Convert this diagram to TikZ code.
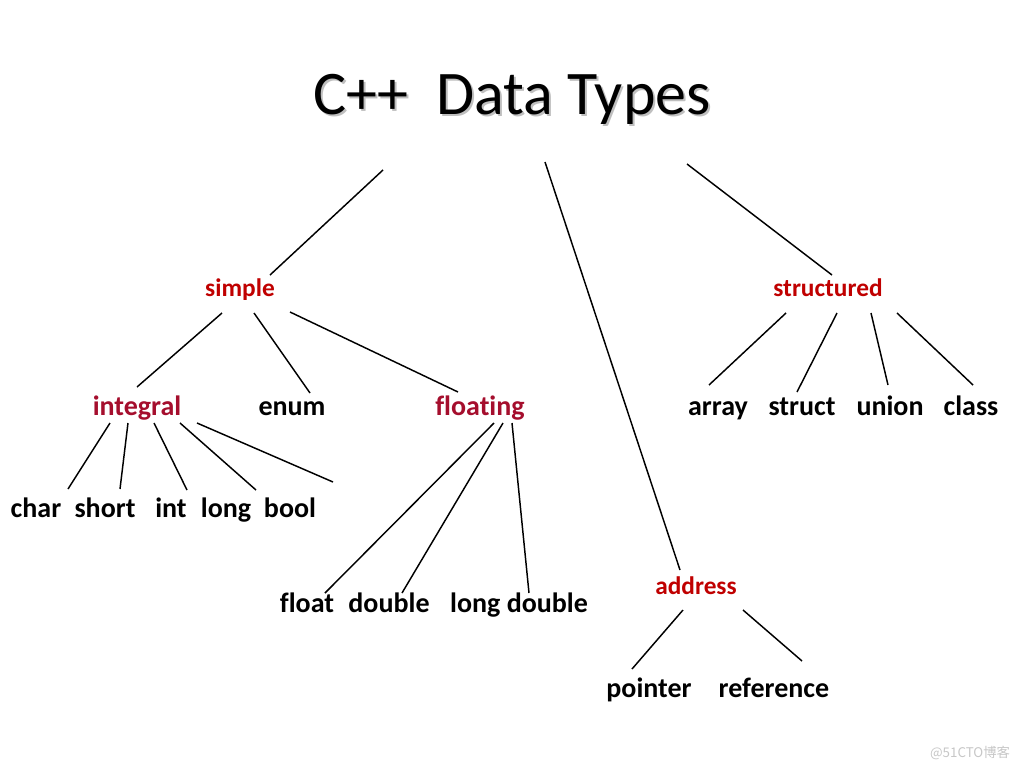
\documentclass[tikz,border=0pt]{standalone}
\usepackage{fontspec}
\setmainfont{Carlito}[Ligatures=NoCommon]
\newfontfamily\cjkfont{Noto Sans CJK SC}
\usetikzlibrary{calc}
\definecolor{topred}{HTML}{C00000}
\definecolor{subred}{HTML}{A50E2D}
\tikzset{
  kind/.style={anchor=base,inner sep=0pt,text=topred,font=\fontsize{19}{23}\selectfont\bfseries},
  subkind/.style={anchor=base,inner sep=0pt,text=subred,font=\fontsize{21}{25}\selectfont\bfseries},
  leaf/.style={anchor=base,inner sep=0pt,text=black,font=\fontsize{21}{25}\selectfont\bfseries},
  link/.style={line width=1.1pt,black}
}

\begin{document}
\begin{tikzpicture}[x=0.75pt,y=-0.75pt]
      \useasboundingbox[fill=white] (0,0) rectangle (1024,768);
      % title with its shadow
      \node[anchor=base,inner sep=0pt,text=black!25,font=\fontsize{46.5}{52}\selectfont] at (514,116) {C++\ \ Data Types};
      \node (title) [anchor=base,inner sep=0pt,font=\fontsize{46.5}{52}\selectfont] at (512,114) {C++\ \ Data Types};
      % second level
      \node (simple) [kind] at (240,296) {simple};
      \node (structured) [kind] at (828,296) {structured};
      \node (address) [kind] at (696,594) {address};
      % third level
      \node (integral) [subkind] at (137,415) {integral};
      \node (enum) [leaf] at (292,415) {enum};
      \node (floating) [subkind] at (480,415) {floating};
      \node (array) [leaf] at (718,415) {array};
      \node (struct) [leaf] at (802,415) {struct};
      \node (union) [leaf] at (890,415) {union};
      \node (class) [leaf] at (971,415) {class};
      \node (pointer) [leaf] at (649,697) {pointer};
      \node (reference) [leaf] at (774,697) {reference};
      % integral and floating types
      \node (char) [leaf] at (36,517) {char};
      \node (short) [leaf] at (105,517) {short};
      \node (int) [leaf] at (171,517) {int};
      \node (long) [leaf] at (226,517) {long};
      \node (bool) [leaf] at (290,517) {bool};
      \node (float) [leaf] at (307,612) {float};
      \node (double) [leaf] at (389,612) {double};
      \node (longdouble) [leaf] at (519,612) {long double};
      \node (mark) [anchor=base,inner sep=0pt,text=black!22,font=\cjkfont\fontsize{10}{12}\selectfont] at (970,757) {@51CTO博客};
      % links
      \draw[link] ($(title.base)+(-129,56)$) -- ($(simple.base)+(30,-21)$);
      \draw[link] ($(title.base)+(33,48)$) -- ($(address.base)+(-16,-24)$);
      \draw[link] ($(title.base)+(175,50)$) -- ($(structured.base)+(4,-21)$);
      \draw[link] ($(simple.base)+(-18,17)$) -- ($(integral.base)+(0,-28)$);
      \draw[link] ($(simple.base)+(14,17)$) -- ($(enum.base)+(18,-22)$);
      \draw[link] ($(simple.base)+(50,16)$) -- ($(floating.base)+(-22,-23)$);
      \draw[link] ($(structured.base)+(-42,17)$) -- ($(array.base)+(-9,-30)$);
      \draw[link] ($(structured.base)+(9,17)$) -- ($(struct.base)+(-5,-23)$);
      \draw[link] ($(structured.base)+(43,17)$) -- ($(union.base)+(-2,-30)$);
      \draw[link] ($(structured.base)+(69,17)$) -- ($(class.base)+(2,-30)$);
      \draw[link] ($(integral.base)+(-27,8)$) -- ($(char.base)+(32,-28)$);
      \draw[link] ($(integral.base)+(-9,8)$) -- ($(short.base)+(15,-28)$);
      \draw[link] ($(integral.base)+(17,8)$) -- ($(int.base)+(16,-27)$);
      \draw[link] ($(integral.base)+(43,8)$) -- ($(long.base)+(30,-27)$);
      \draw[link] ($(integral.base)+(60,8)$) -- ($(bool.base)+(43,-35)$);
      \draw[link] ($(floating.base)+(14,8)$) -- ($(float.base)+(18,-19)$);
      \draw[link] ($(floating.base)+(23,8)$) -- ($(double.base)+(13,-19)$);
      \draw[link] ($(floating.base)+(32,8)$) -- ($(longdouble.base)+(10,-19)$);
      \draw[link] ($(address.base)+(-13,16)$) -- ($(pointer.base)+(-17,-28)$);
      \draw[link] ($(address.base)+(47,16)$) -- ($(reference.base)+(28,-36)$);
    \end{tikzpicture}
\end{document}
